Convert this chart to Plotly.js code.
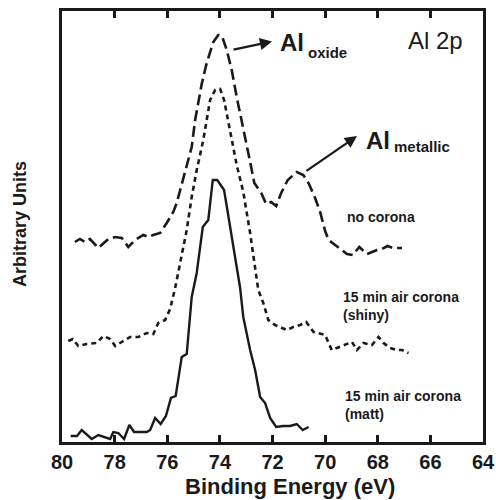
<!DOCTYPE html>
<html>
<head>
<meta charset="utf-8">
<script src="https://cdn.plot.ly/plotly-3.0.1.min.js"></script>
<style>html,body{margin:0;padding:0;background:#fff;}#chart{width:496px;height:500px;}</style>
</head>
<body>
<div id="chart"></div>
<script>
// Binding energy (eV) and intensity (arbitrary units)
const noCoronaE = [79.51,79.32,79.13,78.94,78.62,78.24,77.98,77.73,77.48,77.22,76.91,76.72,76.53,76.27,76.02,75.77,75.64,75.51,75.26,75.07,74.94,74.69,74.52,74.37,74.25,74.06,73.92,73.74,73.55,73.36,73.17,72.92,72.69,72.43,72.24,72.05,71.86,71.67,71.42,71.08,70.83,70.63,70.38,70.19,70.00,69.87,69.62,69.17,68.95,68.70,68.41,68.03,67.84,67.63,67.43,67.08];
const noCoronaI = [200,203,200,203,194,203,205,204,195,202,207,205,207,209,219,230,239,252,275,295,322,358,377,390,400,407,406,392,372,345,322,289,259,249,238,240,236,249,262,270,267,259,244,230,211,202,197,188,187,195,188,192,193,196,194,194];

const shinyE = [79.76,79.59,79.38,79.06,78.68,78.43,78.17,77.98,77.73,77.41,77.10,76.78,76.53,76.34,76.08,75.89,75.70,75.51,75.26,75.07,74.88,74.63,74.37,74.18,73.99,73.84,73.61,73.36,73.11,72.85,72.54,72.35,72.16,71.90,71.46,71.21,70.95,70.72,70.44,70.25,70.00,69.75,69.43,68.98,68.79,68.54,68.22,67.97,67.78,67.53,67.27,67.08,66.83];
const shinyI = [101,103,96,98,99,106,103,96,100,105,105,109,108,119,122,133,154,180,212,245,272,302,342,352,353,342,312,277,250,209,152,139,122,117,112,115,117,120,110,109,107,92,95,100,92,99,97,105,99,94,92,92,89];

const mattE = [79.67,79.43,79.25,78.87,78.62,78.36,78.17,78.05,77.86,77.64,77.44,77.26,76.78,76.65,76.46,76.25,76.05,75.86,75.68,75.45,75.26,75.07,74.88,74.65,74.44,74.27,74.10,73.84,73.23,73.11,72.85,72.66,72.47,72.28,72.09,71.86,71.59,71.33,71.08,70.85,70.63];
const mattI = [6,6,12,3,7,5,3,10,9,3,17,10,10,12,24,18,26,44,46,85,88,145,169,215,222,262,262,252,154,125,92,72,45,39,24,15,16,16,18,12,15];

const xTicks = [80,78,76,74,72,70,68,66,64];

// plot-area geometry used to place the text labels
const L = 62, R = 483, T = 11, B = 442;
const xMin = 80, xMax = 64, yMax = 431;
function px2x(px){ return xMin + (px - L) / (R - L) * (xMax - xMin); }
function px2y(py){ return (B - py) / (B - T) * yMax; }
function px2px(px){ return (px - L) / (R - L); }
function py2py(py){ return (B - py) / (B - T); }

const FONT = 'Liberation Sans, Arial, Helvetica, sans-serif';
const INK = '#1a1a1a';

const traces = [
  {x: noCoronaE, y: noCoronaI, mode: 'lines', line: {color: INK, width: 2.6, dash: '11px,5px'}},
  {x: shinyE, y: shinyI, mode: 'lines', line: {color: INK, width: 2.6, dash: '5px,4px'}},
  {x: mattE, y: mattI, mode: 'lines', line: {color: INK, width: 2.4}}
];

function txt(text, px, py, size, bold, xanchor){
  return {text: text, x: px2x(px), y: px2y(py), xref: 'x', yref: 'y', showarrow: false,
    xanchor: xanchor || 'left', yanchor: 'middle', align: 'left',
    font: {family: FONT, size: size, color: INK, weight: bold ? 'bold' : 'normal'}};
}
function arrow(x0, y0, x1, y1){
  return {x: px2x(x1), y: px2y(y1), ax: px2x(x0), ay: px2y(y0), xref: 'x', yref: 'y', axref: 'x', ayref: 'y',
    text: '', showarrow: true, arrowhead: 2, arrowsize: 1.1, arrowwidth: 2.2, arrowcolor: INK};
}

const annotations = [
  txt('Al 2p', 406, 40, 24, false),
  txt('Al', 278, 42, 24, true),
  txt('oxide', 306, 52, 15, true),
  txt('Al', 364, 140, 24, true),
  txt('metallic', 392, 146, 15, true),
  txt('no corona', 345, 217, 14, true),
  txt('15 min air corona<br>(shiny)', 341, 306, 14, true),
  txt('15 min air corona<br>(matt)', 343, 405, 14, true),
  arrow(232, 50, 272, 41.5),
  arrow(305, 172, 357, 136),
  // axis titles
  {text: 'Binding Energy (eV)', x: px2px(290), y: py2py(486), xref: 'paper', yref: 'paper', showarrow: false,
   xanchor: 'center', yanchor: 'middle', font: {family: FONT, size: 22, color: INK, weight: 'bold'}},
  {text: 'Arbitrary Units', x: px2px(20), y: py2py(224), xref: 'paper', yref: 'paper', showarrow: false,
   textangle: -90, xanchor: 'center', yanchor: 'middle', font: {family: FONT, size: 18, color: INK, weight: 'bold'}}
];

const layout = {
  width: 496, height: 500,
  margin: {l: L, r: 496 - R, t: T, b: 500 - B},
  paper_bgcolor: '#fff', plot_bgcolor: '#fff',
  showlegend: false,
  xaxis: {
    range: [xMin, xMax], tickvals: xTicks, ticktext: xTicks.map(String),
    ticks: 'inside', ticklen: 7, tickwidth: 3, tickcolor: INK,
    showline: true, linewidth: 3, linecolor: INK, mirror: 'ticks',
    showgrid: false, zeroline: false,
    tickfont: {family: FONT, size: 20, color: INK, weight: 'bold'}
  },
  yaxis: {
    range: [0, yMax], showticklabels: false, ticks: '',
    showline: true, linewidth: 3, linecolor: INK, mirror: true,
    showgrid: false, zeroline: false
  },
  annotations: annotations
};

Plotly.newPlot('chart', traces, layout, {staticPlot: true, displayModeBar: false});
</script>
</body>
</html>
